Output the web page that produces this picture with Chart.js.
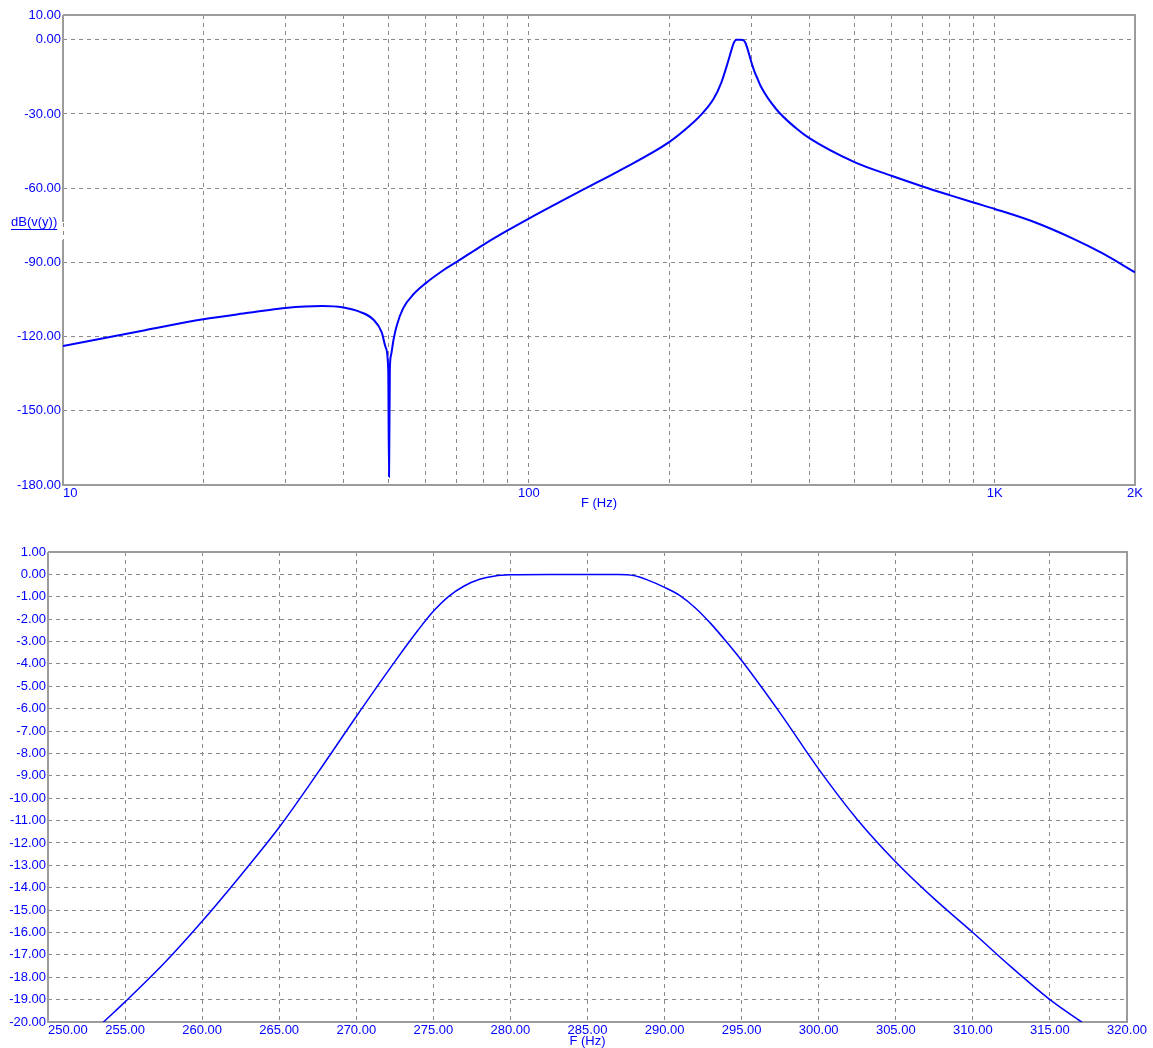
<!DOCTYPE html>
<html>
<head>
<meta charset="utf-8">
<script src="https://cdn.jsdelivr.net/npm/chart.js@4.4.1/dist/chart.umd.min.js"></script>
<style>
    html, body { margin: 0; padding: 0; background: #fff; }
    #top { position: absolute; left: 0; top: 0; width: 1153px; height: 512px; }
    #bottom { position: absolute; left: 0; top: 528px; width: 1153px; height: 520px; }
</style>
</head>
<body>
<div id="top"><canvas id="topChart"></canvas></div>
<div id="bottom"><canvas id="bottomChart"></canvas></div>
<script>
// wide sweep, 10 Hz .. 2 kHz
const topFreq = [10, 15, 20, 25, 30, 36, 40, 43.4, 46.4, 48.3, 49.3, 49.9, 50.1, 50.3, 50.6,
    51.2, 52.0, 53.7, 56.6, 60, 65.5, 70, 80, 90, 100, 132, 155.8, 200, 221.6, 234.9,
    249.2, 259, 266.7, 272.3, 275, 278.8, 284, 288, 291.2, 294, 300, 305, 310, 315, 340.4,
    375.3, 400, 500, 600, 700, 800, 900, 1000, 1211, 1472, 1689, 2000];
const topDb = [-123.8, -117.4, -113.0, -110.4, -108.4, -107.6, -108.2, -110.0, -113.2, -118.2, -124.5, -133.5, -176.7, -133.5, -127.5,
    -121.5, -115.8, -108.6, -102.8, -98.5, -93.2, -89.8, -82.8, -77.1, -72.3, -60.2, -53.1, -41.4, -34.7, -30.1,
    -23.9, -17.2, -9.8, -4.0, -1.5, -0.05, 0, -0.1, -1.0, -3.1, -8.8, -12.9, -16.0, -19.0, -28.3,
    -35.9, -39.8, -49.5, -55.0, -59.3, -62.8, -65.8, -68.4, -73.6, -80.4, -86.0, -94.0];

// zoomed passband, 250 .. 320 Hz
const bandFreq = [253, 253.6, 255, 257.5, 260, 262.5, 265, 267.5, 270, 272.5, 274, 275, 276, 277, 278,
    279, 280, 282.5, 285, 287, 288, 289, 290, 291, 292, 293, 294, 295, 297.5, 300,
    302.5, 305, 307.5, 310, 312.5, 315, 317.06, 318.5];
const bandDb = [-20.4, -20.0, -19.1, -17.4, -15.5, -13.45, -11.3, -8.87, -6.35, -3.9, -2.5, -1.65, -0.98, -0.52, -0.22,
    -0.07, -0.02, 0, 0, 0, -0.05, -0.28, -0.58, -0.95, -1.5, -2.2, -3.0, -3.85, -6.2, -8.7,
    -10.95, -12.85, -14.5, -16.0, -17.55, -19.0, -20.0, -20.65];

// ticks
const topGridFreqs = [10, 20, 30, 40, 50, 60, 70, 80, 90, 100, 200, 300, 400, 500, 600, 700, 800, 900, 1000, 2000];
const topLabelFreqs = [10, 100, 1000, 2000];
const topLabelText = ['    10', '100', '1K', '2K'];
const topDbTicks = [-180, -150, -120, -90, -60, -30, 0, 10];
const bandFreqTicks = [250, 255, 260, 265, 270, 275, 280, 285, 290, 295, 300, 305, 310, 315, 320];
const bandDbTicks = [-20, -19, -18, -17, -16, -15, -14, -13, -12, -11, -10, -9, -8, -7, -6, -5, -4, -3, -2, -1, 0, 1];

const BLUE = '#0000ff';
const GRID = '#8a8a8a';
const FRAME = '#9c9c9c';

Chart.defaults.font.family = '"Liberation Sans", Arial, sans-serif';
Chart.defaults.font.size = 13;
Chart.defaults.color = BLUE;

function toPoints(xs, ys) {
    return xs.map((x, i) => ({x: x, y: ys[i]}));
}

function fixTicks(values) {
    return function (scale) {
        scale.ticks = values.map(v => ({value: v}));
    };
}

// gray frame round the plot area, with optional gap on the left side for the y label
const framePlugin = {
    id: 'frame',
    beforeDatasetsDraw(chart, args, opts) {
        const {left, right, top, bottom} = chart.chartArea;
        const ctx = chart.ctx;
        ctx.save();
        ctx.strokeStyle = FRAME;
        ctx.lineWidth = 2;
        ctx.beginPath();
        ctx.moveTo(left, top);
        ctx.lineTo(right, top);
        ctx.lineTo(right, bottom);
        ctx.lineTo(left, bottom);
        if (opts.gap) {
            ctx.lineTo(left, opts.gap[1]);
            ctx.moveTo(left, opts.gap[0]);
            ctx.lineTo(left, top);
        } else {
            ctx.lineTo(left, top);
        }
        ctx.stroke();
        if (opts.label) {
            ctx.font = '13px "Liberation Sans", Arial, sans-serif';
            ctx.fillStyle = BLUE;
            ctx.textBaseline = 'middle';
            ctx.textAlign = 'left';
            ctx.fillText(opts.label, 11, 222);
            const w = ctx.measureText(opts.label).width;
            ctx.strokeStyle = BLUE;
            ctx.lineWidth = 1;
            ctx.beginPath();
            ctx.moveTo(11, 229.5);
            ctx.lineTo(11 + w, 229.5);
            ctx.stroke();
        }
        ctx.restore();
    }
};

const topChart = new Chart(document.getElementById('topChart'), {
    type: 'line',
    data: {
        datasets: [{
            data: toPoints(topFreq, topDb),
            borderColor: BLUE,
            borderWidth: 2,
            pointRadius: 0,
            cubicInterpolationMode: 'monotone'
        }]
    },
    options: {
        responsive: true,
        maintainAspectRatio: false,
        animation: false,
        layout: {padding: {left: 0, right: 18, top: 15, bottom: 0}},
        plugins: {
            legend: {display: false},
            tooltip: {enabled: false},
            frame: {gap: [222, 240], label: 'dB(v(y))'}
        },
        scales: {
            x: {
                type: 'logarithmic',
                min: 10,
                max: 2000,
                afterBuildTicks: fixTicks(topGridFreqs),
                afterFit: (s) => { s.height = 27; },
                grid: {color: GRID, lineWidth: 1, drawTicks: false},
                border: {display: false, dash: [4, 4]},
                ticks: {
                    color: BLUE,
                    padding: 1,
                    autoSkip: false,
                    maxRotation: 0,
                    callback: (v) => {
                        const i = topLabelFreqs.indexOf(v);
                        return i >= 0 ? topLabelText[i] : '';
                    }
                },
                title: {display: true, text: 'F (Hz)', color: BLUE, padding: {top: 0, bottom: 2}, font: {lineHeight: 1}}
            },
            y: {
                type: 'linear',
                min: -180,
                max: 10,
                afterBuildTicks: fixTicks(topDbTicks),
                afterFit: (s) => { s.width = 63; },
                grid: {color: GRID, lineWidth: 1, drawTicks: false},
                border: {display: false, dash: [4, 4]},
                ticks: {
                    color: BLUE,
                    padding: 2,
                    callback: (v) => v.toFixed(2)
                }
            }
        }
    },
    plugins: [framePlugin]
});

const bottomChart = new Chart(document.getElementById('bottomChart'), {
    type: 'line',
    data: {
        datasets: [{
            data: toPoints(bandFreq, bandDb),
            borderColor: BLUE,
            borderWidth: 1.5,
            pointRadius: 0,
            cubicInterpolationMode: 'monotone'
        }]
    },
    options: {
        responsive: true,
        maintainAspectRatio: false,
        animation: false,
        layout: {padding: {left: 0, right: 26, top: 24, bottom: 0}},
        plugins: {
            legend: {display: false},
            tooltip: {enabled: false},
            frame: {}
        },
        scales: {
            x: {
                type: 'linear',
                min: 250,
                max: 320,
                afterBuildTicks: fixTicks(bandFreqTicks),
                afterFit: (s) => { s.height = 26; },
                grid: {color: GRID, lineWidth: 1, drawTicks: false},
                border: {display: false, dash: [4, 4]},
                ticks: {
                    color: BLUE,
                    padding: 1,
                    autoSkip: false,
                    maxRotation: 0,
                    callback: (v) => v === 250 ? '           ' + v.toFixed(2) : v.toFixed(2)
                },
                title: {display: true, text: 'F (Hz)', color: BLUE, padding: {top: 0, bottom: 0}, font: {lineHeight: 1}}
            },
            y: {
                type: 'linear',
                min: -20,
                max: 1,
                afterBuildTicks: fixTicks(bandDbTicks),
                afterFit: (s) => { s.width = 48; },
                grid: {color: GRID, lineWidth: 1, drawTicks: false},
                border: {display: false, dash: [4, 4]},
                ticks: {
                    color: BLUE,
                    padding: 2,
                    autoSkip: false,
                    callback: (v) => v.toFixed(2)
                }
            }
        }
    },
    plugins: [framePlugin]
});
</script>
</body>
</html>
